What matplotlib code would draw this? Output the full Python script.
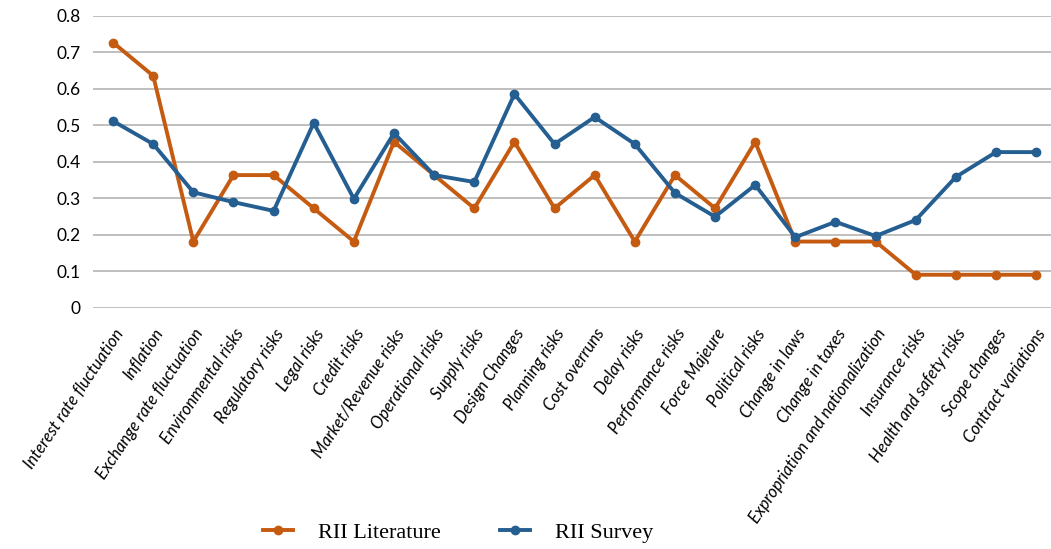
import matplotlib.pyplot as plt

risks = ['Interest rate fluctuation', 'Inflation', 'Exchange rate fluctuation',
         'Environmental risks', 'Regulatory risks', 'Legal risks', 'Credit risks',
         'Market/Revenue risks', 'Operational risks', 'Supply risks', 'Design Changes',
         'Planning risks', 'Cost overruns', 'Delay risks', 'Performance risks',
         'Force Majeure', 'Political risks', 'Change in laws', 'Change in taxes',
         'Expropriation and nationalization', 'Insurance risks',
         'Health and safety risks', 'Scope changes', 'Contract variations']
rii_literature = [0.727, 0.636, 0.182, 0.364, 0.364, 0.273, 0.182, 0.455, 0.364, 0.273,
                  0.455, 0.273, 0.364, 0.182, 0.364, 0.273, 0.455, 0.182, 0.182, 0.182,
                  0.091, 0.091, 0.091, 0.091]
rii_survey = [0.512, 0.449, 0.317, 0.290, 0.266, 0.507, 0.299, 0.479, 0.364, 0.345,
              0.586, 0.449, 0.523, 0.449, 0.315, 0.250, 0.337, 0.194, 0.236, 0.197,
              0.241, 0.359, 0.427, 0.427]
yticks = [0, 0.1, 0.2, 0.3, 0.4, 0.5, 0.6, 0.7, 0.8]

fig = plt.figure(figsize=(10.51, 5.49), dpi=100)
ax = fig.add_axes([0.0885, 0.439, 0.9115, 0.532])

x = range(len(risks))
ax.plot(x, rii_literature, color='#C55A11', lw=2.8, marker='o', ms=6, label='RII Literature', zorder=3)
ax.plot(x, rii_survey, color='#255E91', lw=2.8, marker='o', ms=6, label='RII Survey', zorder=3)

ax.set_ylim(0, 0.8)
ax.set_xlim(-0.5, 23.37)
ax.set_yticks(yticks)
ax.set_yticklabels([f'{v:g}' for v in yticks], fontfamily='Lato', fontsize=12.5)
ax.set_xticks(list(x))
ax.set_xticklabels(risks, rotation=56, ha='right', rotation_mode='anchor',
                   fontfamily='Lato', fontstyle='italic', fontsize=12)
ax.tick_params(axis='both', length=0)
ax.tick_params(axis='y', pad=9)
ax.tick_params(axis='x', pad=13)
ax.grid(axis='y', color='#BFBFBF', lw=1.4)
ax.set_axisbelow(True)
for s in ax.spines.values():
    s.set_visible(False)

fig.legend(loc='lower center', bbox_to_anchor=(0.436, -0.025), ncol=2, frameon=False,
           prop={'family': 'Liberation Serif', 'size': 16}, handlelength=1.35,
           columnspacing=2.7, handletextpad=1.1)

fig.savefig('out.png', dpi=100)
